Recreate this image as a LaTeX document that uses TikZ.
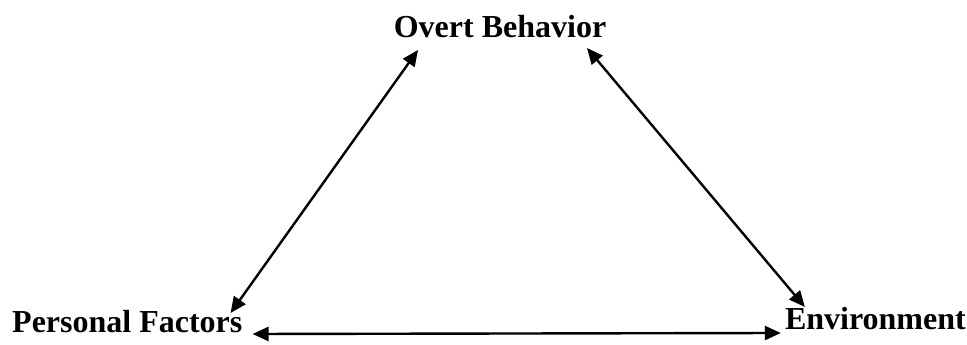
\documentclass[tikz,border=0pt]{standalone}
\usepackage{fontspec}
\setmainfont{Liberation Serif}
\usetikzlibrary{arrows.meta,calc}
\begin{document}
\begin{tikzpicture}[x=1pt,y=1pt,
  label/.style={font=\fontsize{32}{36}\selectfont\bfseries, inner sep=0pt, text depth=0pt},
  link/.style={line width=2.4pt, {Triangle[length=16pt,width=14pt]}-{Triangle[length=16pt,width=14pt]}}]
  \useasboundingbox (0,0) rectangle (967,345);
  \node[label, anchor=base] (ob) at (500,307) {Overt Behavior};
  \node[label, anchor=base west] (pf) at (12,12) {Personal Factors};
  \node[label, anchor=base east] (env) at (966,15) {Environment};
  \draw[link] ($(ob.base)+(-82,-12)$) -- ($(pf.base east)+(-12,20)$);
  \draw[link] ($(ob.base)+(87,-10)$) -- ($(env.base west)+(20,23)$);
  \draw[link] ($(pf.base east)+(10,-1)$) -- ($(env.base west)+(-4,-3)$);
\end{tikzpicture}
\end{document}
